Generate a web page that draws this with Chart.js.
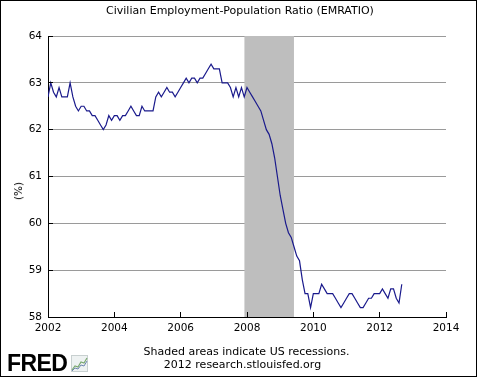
<!DOCTYPE html>
<html><head><meta charset="utf-8">
<script src="https://cdn.jsdelivr.net/npm/chart.js@4.4.0/dist/chart.umd.min.js"></script>
<style>
html,body{margin:0;padding:0;background:#fff;}
#wrap{position:relative;width:480px;height:378px;overflow:hidden;font-family:"DejaVu Sans",Verdana,sans-serif;background:#fff;}
#frame{position:absolute;left:0;top:0;width:475px;height:375px;border:1px solid #000;pointer-events:none;}
canvas{position:absolute;left:0;top:0;}
.t{position:absolute;white-space:nowrap;color:#000;}
</style></head>
<body>
<div id="wrap">
<canvas id="c" width="480" height="378"></canvas>
<div class="t" id="title" style="left:0;width:480px;text-align:center;top:4px;font-size:11px;line-height:13px;">Civilian Employment-Population Ratio (EMRATIO)</div>
<div class="t" style="left:18px;top:191px;font-size:10.5px;line-height:12px;transform:translate(-50%,-50%) rotate(-90deg);">(%)</div>
<div class="t" style="left:246.5px;top:345px;font-size:11px;line-height:13px;transform:translateX(-50%);">Shaded areas indicate US recessions.</div>
<div class="t" style="left:242.5px;top:358px;font-size:11px;line-height:13px;transform:translateX(-50%);">2012 research.stlouisfed.org</div>
<div class="t" style="left:7px;top:352px;font-family:'Liberation Sans',Arial,sans-serif;font-weight:bold;font-size:23px;line-height:23px;letter-spacing:-0.6px;">FRED</div>
<svg style="position:absolute;left:71px;top:355px" width="17" height="17" viewBox="0 0 17 17">
<rect x="0.5" y="0.5" width="16" height="16" fill="#eef2f2" stroke="#c8d0d0"/>
<polyline points="1,15 4,11 7,12 10,7 13,8 16,3" fill="none" stroke="#7aa870" stroke-width="1.2"/>
<polyline points="1,16 4,13 7,14 10,10 13,11 16,6" fill="none" stroke="#6f86b0" stroke-width="1"/>
</svg>
<div id="frame"></div>
</div>
<script>
// Monthly values, Jan 2002 onward
const startYear = 2002;
const v2002 = [62.7, 63.0, 62.8, 62.7, 62.9, 62.7, 62.7, 62.7, 63.0, 62.7, 62.5, 62.4];
const v2003 = [62.5, 62.5, 62.4, 62.4, 62.3, 62.3, 62.2, 62.1, 62.0, 62.1, 62.3, 62.2];
const v2004 = [62.3, 62.3, 62.2, 62.3, 62.3, 62.4, 62.5, 62.4, 62.3, 62.3, 62.5, 62.4];
const v2005 = [62.4, 62.4, 62.4, 62.7, 62.8, 62.7, 62.8, 62.9, 62.8, 62.8, 62.7, 62.8];
const v2006 = [62.9, 63.0, 63.1, 63.0, 63.1, 63.1, 63.0, 63.1, 63.1, 63.2, 63.3, 63.4];
const v2007 = [63.3, 63.3, 63.3, 63.0, 63.0, 63.0, 62.9, 62.7, 62.9, 62.7, 62.9, 62.7];
const v2008 = [62.9, 62.8, 62.7, 62.6, 62.5, 62.4, 62.2, 62.0, 61.9, 61.7, 61.4, 61.0];
const v2009 = [60.6, 60.3, 60.0, 59.8, 59.7, 59.5, 59.3, 59.2, 58.8, 58.5, 58.5, 58.2];
const v2010 = [58.5, 58.5, 58.5, 58.7, 58.6, 58.5, 58.5, 58.5, 58.4, 58.3, 58.2, 58.3];
const v2011 = [58.4, 58.5, 58.5, 58.4, 58.3, 58.2, 58.2, 58.3, 58.4, 58.4, 58.5, 58.5];
const v2012 = [58.5, 58.6, 58.5, 58.4, 58.6, 58.6, 58.4, 58.3, 58.7];
const values = [].concat(v2002, v2003, v2004, v2005, v2006, v2007, v2008, v2009, v2010, v2011, v2012);

// Recession (year, month) start and end
const recessionStart = [2007, 12];
const recessionEnd = [2009, 6];

const xTicks = [2002, 2004, 2006, 2008, 2010, 2012, 2014];
const yTicks = [58, 59, 60, 61, 62, 63, 64];

const toYear = (ym) => ym[0] + (ym[1] - 1) / 12;
const points = values.map((v, i) => ({x: startYear + i / 12, y: v}));
const recPoints = [{x: toYear(recessionStart), y: yTicks[yTicks.length-1]}, {x: toYear(recessionEnd), y: yTicks[yTicks.length-1]}];

function align(p){ return Math.round(p - 0.5) + 0.5; }
const stubs = {
  id: 'stubs',
  afterDatasetsDraw(chart){
    const {ctx, scales:{x, y}, chartArea:a} = chart;
    ctx.save();
    ctx.strokeStyle = '#000';
    ctx.lineWidth = 1;
    ctx.beginPath();
    yTicks.forEach(v => { const py = align(y.getPixelForValue(v)); ctx.moveTo(a.left, py); ctx.lineTo(a.left + 5, py); });
    xTicks.forEach(v => { const px = align(x.getPixelForValue(v)); ctx.moveTo(px, a.bottom); ctx.lineTo(px, a.bottom - 5); });
    ctx.stroke();
    ctx.restore();
  }
};

const tickFont = {family: "'DejaVu Sans', Verdana, sans-serif", size: 10.5};
new Chart(document.getElementById('c'), {
  type: 'line',
  data: {datasets: [
    {data: points, borderColor: '#1a1a8c', borderWidth: 1.2, pointRadius: 0, tension: 0, fill: false},
    {data: recPoints, borderColor: 'rgba(0,0,0,0)', borderWidth: 1, backgroundColor: '#bebebe', fill: 'start', pointRadius: 0, tension: 0}
  ]},
  options: {
    responsive: false, animation: false, devicePixelRatio: 1,
    layout: {padding: {top: 36, right: 34, left: 0, bottom: 0}},
    plugins: {legend: {display: false}, tooltip: {enabled: false}, title: {display: false}},
    scales: {
      x: {
        type: 'linear', min: xTicks[0], max: xTicks[xTicks.length-1],
        afterFit(s){ s.height = 61; },
        afterBuildTicks(s){ s.ticks = xTicks.map(v => ({value: v})); },
        ticks: {callback: v => String(v), font: tickFont, color: '#000', padding: 5, maxRotation: 0, autoSkip: false},
        grid: {drawOnChartArea: false, drawTicks: false},
        border: {color: '#000', width: 1}
      },
      y: {
        min: yTicks[0], max: yTicks[yTicks.length-1],
        afterFit(s){ s.width = 48; },
        afterBuildTicks(s){ s.ticks = yTicks.map(v => ({value: v})); },
        ticks: {font: tickFont, color: '#000', padding: 6},
        grid: {color: '#9a9a9a', drawTicks: false, lineWidth: 1},
        border: {color: '#000', width: 1}
      }
    }
  },
  plugins: [stubs]
});
</script>
</body></html>
